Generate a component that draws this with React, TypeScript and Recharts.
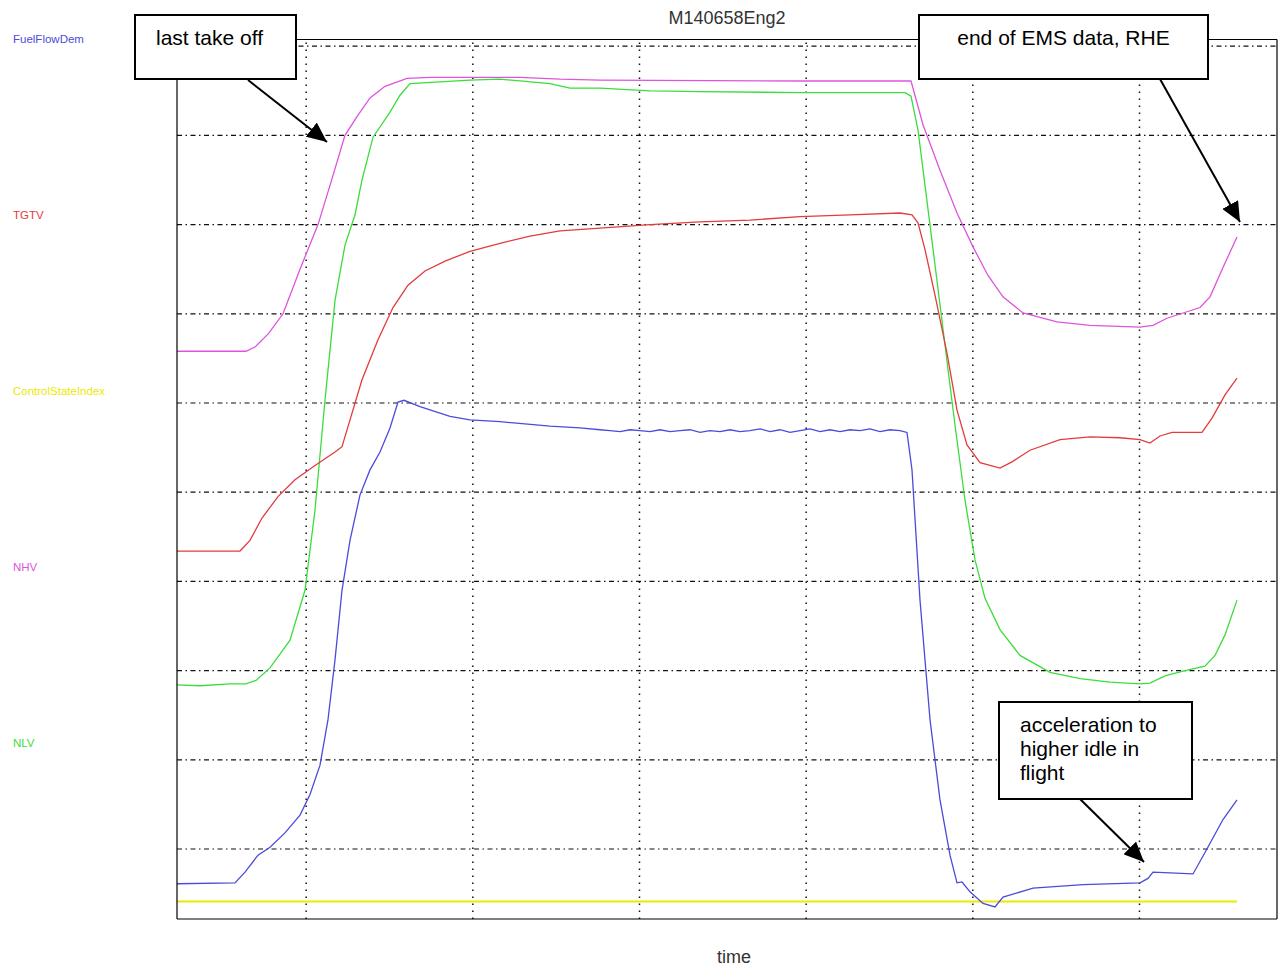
import { Line, LineChart, ReferenceLine, XAxis, YAxis } from 'recharts';

// time axis (no labels in the original, grid every 100 units)
const timeTicks = [77.5, 177.5, 277.5, 377.5, 477.5, 577.5];
const levelTicks = [0, 1, 2, 3, 4, 5, 6, 7, 8, 9];

const nhvTime = [0, 41.4, 47, 55, 63.6, 73.8, 84.6, 91.8, 100.8, 108, 115.8, 124.8, 138, 151.8, 205.8, 229.8, 253.8, 373.8, 440.4, 447.6, 457.8, 468, 477.6, 486.6, 495.6, 507.6, 528, 547.8, 577.8, 585.6, 594, 613.8, 619.8, 627.6, 636];
const nhvValue = [5.58, 5.58, 5.63, 5.78, 6.0, 6.5, 7.0, 7.44, 8.0, 8.21, 8.42, 8.55, 8.64, 8.65, 8.65, 8.63, 8.62, 8.61, 8.61, 8.12, 7.61, 7.13, 6.75, 6.43, 6.19, 6.01, 5.91, 5.87, 5.85, 5.87, 5.95, 6.07, 6.19, 6.52, 6.86];

const nlvTime = [0, 13.8, 31.8, 41.4, 47.4, 55.8, 67.8, 76.8, 82.8, 88.8, 94.8, 100.8, 106.8, 111, 117.6, 127.8, 133.8, 139.8, 157.8, 175.8, 193.8, 205.8, 223.8, 235.8, 253.8, 283.8, 313.8, 373.8, 436.8, 440.4, 444.6, 448.8, 454.8, 460.8, 466.8, 472.8, 478.8, 484.8, 493.8, 505.8, 523.8, 541.8, 559.8, 577.8, 583.8, 592.8, 604.8, 616.8, 622.8, 628.8, 636];
const nlvValue = [1.84, 1.83, 1.85, 1.85, 1.89, 2.03, 2.34, 2.9, 3.8, 5.03, 6.15, 6.77, 7.11, 7.5, 7.98, 8.26, 8.45, 8.58, 8.6, 8.62, 8.63, 8.61, 8.58, 8.53, 8.53, 8.5, 8.49, 8.48, 8.48, 8.44, 8.06, 7.44, 6.55, 5.65, 4.75, 3.91, 3.24, 2.81, 2.46, 2.17, 1.98, 1.91, 1.87, 1.85, 1.86, 1.94, 2.0, 2.05, 2.17, 2.4, 2.79];

const tgtvTime = [0, 37.8, 43.8, 51, 60.6, 70.8, 82.8, 94.8, 99, 103.8, 111, 120.6, 129.6, 138.6, 148.8, 160.8, 175.8, 193.8, 211.8, 229.8, 253.8, 283.8, 313.8, 343.8, 373.8, 403.8, 433.8, 441, 444.6, 448.8, 454.8, 462, 468, 474, 481.8, 493.8, 501, 511.8, 529.8, 547.8, 565.8, 577.8, 583.8, 589.8, 597, 615, 621, 628.8, 636];
const tgtvValue = [3.34, 3.34, 3.46, 3.71, 3.95, 4.14, 4.3, 4.45, 4.51, 4.81, 5.26, 5.71, 6.07, 6.32, 6.48, 6.59, 6.7, 6.79, 6.87, 6.93, 6.96, 7.0, 7.03, 7.05, 7.09, 7.11, 7.13, 7.11, 7.02, 6.72, 6.21, 5.56, 4.92, 4.53, 4.33, 4.27, 4.34, 4.47, 4.59, 4.62, 4.61, 4.59, 4.55, 4.63, 4.67, 4.67, 4.83, 5.09, 5.28];

const fuelTime = [0, 34.8, 40.8, 48.6, 55.8, 64.8, 73.8, 79.8, 85.8, 90.6, 94.8, 99, 103.8, 109.8, 115.8, 121.8, 127.8, 132.6, 136.2, 145.8, 163.8, 175.8, 193.8, 223.8, 241.8, 253.8, 259.8, 265.8, 271.8, 277.8, 283.8, 289.8, 295.8, 301.8, 307.8, 313.8, 319.8, 325.8, 331.8, 337.8, 343.8, 349.8, 355.8, 361.8, 367.8, 373.8, 379.8, 385.8, 391.8, 397.8, 403.8, 409.8, 415.8, 421.8, 427.8, 433.8, 438, 441, 445.8, 451.8, 457.8, 463.8, 468, 471, 475.8, 483.6, 490.8, 495.6, 513.6, 543.6, 577.8, 582.6, 585.6, 609.6, 616.8, 627.6, 636];
const fuelValue = [-0.39, -0.38, -0.26, -0.07, 0.02, 0.18, 0.38, 0.61, 0.94, 1.45, 2.12, 2.9, 3.46, 3.97, 4.25, 4.45, 4.72, 5.01, 5.03, 4.96, 4.85, 4.81, 4.79, 4.74, 4.72, 4.7, 4.69, 4.68, 4.7, 4.69, 4.68, 4.7, 4.68, 4.69, 4.7, 4.67, 4.69, 4.68, 4.7, 4.68, 4.69, 4.71, 4.68, 4.7, 4.67, 4.69, 4.71, 4.68, 4.7, 4.68, 4.7, 4.69, 4.71, 4.68, 4.7, 4.69, 4.67, 4.25, 2.79, 1.45, 0.55, -0.07, -0.38, -0.37, -0.48, -0.61, -0.65, -0.54, -0.44, -0.4, -0.38, -0.33, -0.26, -0.28, -0.04, 0.33, 0.55];

const stateTime = [0, 636];
const stateValue = [-0.59, -0.59];

const seriesNames = ['FuelFlowDem', 'TGTV', 'ControlStateIndex', 'NHV', 'NLV'];
const seriesColors = ['#4b4bdc', '#e23c3c', '#eaea00', '#dd55dd', '#3cdc3c'];

const toPoints = (ts: number[], vs: number[]) => ts.map((t, i) => ({ t, v: vs[i] }));

const font = '"Liberation Sans", Arial, sans-serif';

function Arrow({ x1, y1, x2, y2 }: { x1: number; y1: number; x2: number; y2: number }) {
  return <line x1={x1} y1={y1} x2={x2} y2={y2} stroke="#000" strokeWidth={2} markerEnd="url(#head)" />;
}

function Box({ x, y, w, h, lines, align }: { x: number; y: number; w: number; h: number; lines: string[]; align?: 'middle' }) {
  return (
    <g>
      <rect x={x} y={y} width={w} height={h} fill="#fff" stroke="#000" strokeWidth={2} />
      {lines.map((s, i) => (
        <text
          key={s}
          x={align ? x + w / 2 : x + 21}
          y={y + 30 + i * 24}
          textAnchor={align ? 'middle' : 'start'}
          fontSize={21}
          fontFamily={font}
          fill="#000"
        >
          {s}
        </text>
      ))}
    </g>
  );
}

export default function App() {
  const series = [
    { name: 'CtrlState', data: toPoints(stateTime, stateValue), color: seriesColors[2], w: 2 },
    { name: 'NLV', data: toPoints(nlvTime, nlvValue), color: seriesColors[4], w: 1.3 },
    { name: 'TGTV', data: toPoints(tgtvTime, tgtvValue), color: seriesColors[1], w: 1.3 },
    { name: 'NHV', data: toPoints(nhvTime, nhvValue), color: seriesColors[3], w: 1.3 },
    { name: 'FuelFlowDem', data: toPoints(fuelTime, fuelValue), color: seriesColors[0], w: 1.3 },
  ];

  return (
    <div style={{ position: 'absolute', left: 0, top: 0, width: 1281, height: 970, background: '#fff' }}>
      <LineChart width={1281} height={970} margin={{ top: 39.5, right: 4, bottom: 51, left: 177 }}>
        <XAxis xAxisId="b" type="number" dataKey="t" domain={[0, 660]} ticks={timeTicks} interval={0}
          allowDataOverflow orientation="bottom" mirror tick={false} tickSize={10}
          axisLine={{ stroke: '#000', strokeWidth: 1.2 }} tickLine={{ stroke: '#000', strokeWidth: 1.2 }} />
        <XAxis xAxisId="t" type="number" dataKey="t" domain={[0, 660]} ticks={timeTicks} interval={0}
          allowDataOverflow orientation="top" mirror tick={false} tickSize={10}
          axisLine={{ stroke: '#000', strokeWidth: 1.2 }} tickLine={{ stroke: '#000', strokeWidth: 1.2 }} />
        <YAxis yAxisId="l" type="number" domain={[-0.785, 9.075]} ticks={levelTicks} interval={0}
          allowDataOverflow orientation="left" mirror tick={false} tickSize={10}
          axisLine={{ stroke: '#000', strokeWidth: 1.2 }} tickLine={{ stroke: '#000', strokeWidth: 1.2 }} />
        <YAxis yAxisId="r" type="number" domain={[-0.785, 9.075]} ticks={levelTicks} interval={0}
          allowDataOverflow orientation="right" mirror tick={false} tickSize={10}
          axisLine={{ stroke: '#000', strokeWidth: 1.2 }} tickLine={{ stroke: '#000', strokeWidth: 1.2 }} />
        {levelTicks.map((v) => (
          <ReferenceLine key={'h' + v} xAxisId="b" yAxisId="l" y={v} stroke="#111" strokeWidth={1.2}
            strokeDasharray="5 3.5 1.5 3.5" />
        ))}
        {timeTicks.map((t) => (
          <ReferenceLine key={'v' + t} xAxisId="b" yAxisId="l" x={t} stroke="#111" strokeWidth={1.5}
            strokeDasharray="1.5 5.5" />
        ))}
        {series.map((s) => (
          <Line key={s.name} xAxisId="b" yAxisId="l" data={s.data} dataKey="v" type="linear"
            stroke={s.color} strokeWidth={s.w} dot={false} activeDot={false} isAnimationActive={false} />
        ))}
      </LineChart>

      <svg width={1281} height={970} style={{ position: 'absolute', left: 0, top: 0, pointerEvents: 'none' }}>
        <defs>
          <marker id="head" markerUnits="userSpaceOnUse" markerWidth={22} markerHeight={18} refX={20} refY={9} orient="auto">
            <path d="M0,0 L20,9 L0,18 Z" fill="#000" />
          </marker>
        </defs>
        <text x={727} y={24} textAnchor="middle" fontSize={18} fontFamily={font} fill="#333">M140658Eng2</text>
        <text x={734} y={963} textAnchor="middle" fontSize={18} fontFamily={font} fill="#333">time</text>
        {seriesNames.map((n, i) => (
          <text key={n} x={13} y={43 + i * 176} fontSize={11.5} fontFamily={font} fill={seriesColors[i]}>{n}</text>
        ))}
        <Box x={135} y={15} w={161} h={64} lines={['last take off']} />
        <Arrow x1={248} y1={80} x2={327} y2={142} />
        <Box x={919} y={15} w={289} h={64} lines={['end of EMS data, RHE']} align="middle" />
        <Arrow x1={1160} y1={79} x2={1240} y2={222} />
        <Box x={999} y={702} w={193} h={97} lines={['acceleration to', 'higher idle in', 'flight']} />
        <Arrow x1={1080} y1={799} x2={1144} y2={862} />
      </svg>
    </div>
  );
}
